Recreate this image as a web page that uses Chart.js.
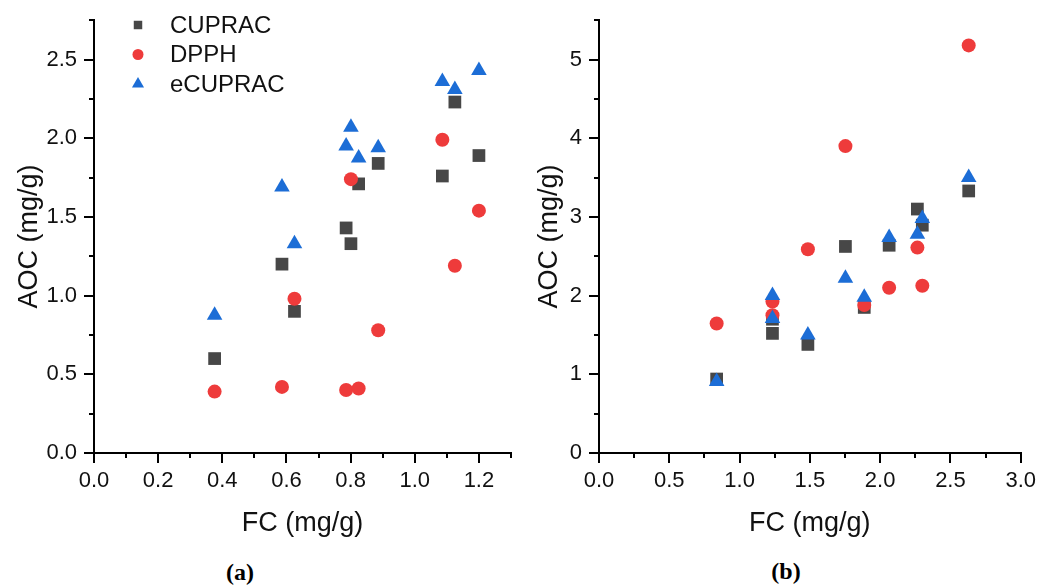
<!DOCTYPE html>
<html>
<head>
<meta charset="utf-8">
<script src="https://cdn.jsdelivr.net/npm/chart.js@4.4.1/dist/chart.umd.min.js"></script>
<style>
    body { margin: 0; background: #fff; width: 1041px; height: 587px; overflow: hidden; position: relative; }
    canvas { position: absolute; top: 0; }
    #chartA { left: 0; }
    #chartB { left: 520px; }
    .panel-label {
        position: absolute; width: 100px; text-align: center;
        font-family: 'Liberation Serif', 'DejaVu Serif', serif;
        font-weight: bold; font-size: 24px; line-height: 26px; color: #000;
    }
</style>
</head>
<body>
<canvas id="chartA" width="520" height="545"></canvas>
<canvas id="chartB" width="521" height="545"></canvas>
<div class="panel-label" style="left:190px; top:559px;">(a)</div>
<div class="panel-label" style="left:736px; top:558px;">(b)</div>

<script>
// Panel (a) data: FC vs AOC
const fcA = [0.376, 0.586, 0.625, 0.786, 0.801, 0.825, 0.886, 1.086, 1.125, 1.2];
const cupracA = [0.60, 1.20, 0.90, 1.43, 1.33, 1.71, 1.84, 1.76, 2.23, 1.89];
const dpphA = [0.39, 0.42, 0.98, 0.40, 1.74, 0.41, 0.78, 1.99, 1.19, 1.54];
const ecupracA = [0.875, 1.69, 1.33, 1.95, 2.07, 1.875, 1.94, 2.36, 2.31, 2.43];

// Panel (b) data
const fcB = [0.837, 1.234, 1.234, 1.486, 1.753, 1.887, 2.064, 2.265, 2.30, 2.63];
const cupracB = [0.94, 1.52, 1.70, 1.38, 2.625, 1.85, 2.64, 3.10, 2.895, 3.33];
const dpphB = [1.645, 1.925, 1.75, 2.59, 3.90, 1.88, 2.10, 2.61, 2.125, 5.18];
const ecupracB = [0.91, 2.0, 1.71, 1.50, 2.22, 1.98, 2.74, 2.78, 2.98, 3.50];

const seriesNames = ['CUPRAC', 'DPPH', 'eCUPRAC'];

Chart.defaults.font.family = "'Liberation Sans', Arial, sans-serif";
Chart.defaults.color = '#111';

function toPoints(xs, ys) {
    return xs.map((x, i) => ({ x: x, y: ys[i] }));
}

function makeDatasets(xs, c, d, e) {
    return [
        { label: seriesNames[0], data: toPoints(xs, c), pointStyle: 'rect', pointRadius: 9,
          backgroundColor: '#474747', borderWidth: 0, order: 3 },
        { label: seriesNames[1], data: toPoints(xs, d), pointStyle: 'circle', pointRadius: 7,
          backgroundColor: '#ee3b3b', borderWidth: 0, order: 2 },
        { label: seriesNames[2], data: toPoints(xs, e), pointStyle: 'triangle', pointRadius: 9,
          backgroundColor: '#1c6dd6', borderWidth: 0, order: 1 }
    ];
}

/**
 * Short minor ticks halfway between the labelled ones
 */
const minorTicks = {
    id: 'minorTicks',
    afterDraw(chart, args, opts) {
        const ctx = chart.ctx;
        const xs = chart.scales.x, ys = chart.scales.y;
        ctx.save();
        ctx.strokeStyle = '#000';
        ctx.lineWidth = 2;
        ctx.beginPath();
        for (let v = opts.xStep / 2; v <= xs.max + 1e-9; v += opts.xStep) {
            const px = Math.round(xs.getPixelForValue(v));
            ctx.moveTo(px, xs.top);
            ctx.lineTo(px, xs.top + 5);
        }
        for (let v = opts.yStep / 2; v <= ys.max + 1e-9; v += opts.yStep) {
            const py = Math.round(ys.getPixelForValue(v));
            ctx.moveTo(ys.right - 5, py);
            ctx.lineTo(ys.right, py);
        }
        ctx.stroke();
        ctx.restore();
    }
};

/**
 * Legend drawn inside the plot, top left
 */
const innerLegend = {
    id: 'innerLegend',
    afterDraw(chart, args, opts) {
        if (!opts.show) return;
        const ctx = chart.ctx;
        const sizes = { rect: 6, circle: 5.5, triangle: 7 };
        ctx.save();
        chart.data.datasets.forEach((ds, i) => {
            const y = opts.top + i * opts.rowGap;
            ctx.fillStyle = ds.backgroundColor;
            Chart.helpers.drawPoint(ctx, { pointStyle: ds.pointStyle, rotation: 0,
                radius: sizes[ds.pointStyle], borderWidth: 0 }, opts.markerX, y);
            ctx.fillStyle = '#111';
            ctx.font = "24px 'Liberation Sans', Arial, sans-serif";
            ctx.textBaseline = 'middle';
            ctx.textAlign = 'left';
            ctx.fillText(ds.label, opts.textX, y + 1);
        });
        ctx.restore();
    }
};

function buildChart(id, datasets, cfg) {
    return new Chart(document.getElementById(id), {
        type: 'scatter',
        data: { datasets: datasets },
        plugins: [minorTicks, innerLegend],
        options: {
            responsive: false,
            animation: false,
            clip: false,
            layout: { padding: { top: 13, right: cfg.padRight, left: 0, bottom: 0 } },
            plugins: {
                legend: { display: false },
                tooltip: { enabled: false },
                minorTicks: { xStep: cfg.xStep, yStep: cfg.yStep },
                innerLegend: { show: cfg.legend, markerX: 138, textX: 170, top: 25, rowGap: 29.5 }
            },
            scales: {
                x: {
                    min: 0,
                    max: cfg.xMax,
                    afterFit: function(scale) { scale.height = 92; },
                    border: { display: true, color: '#000', width: 2 },
                    grid: { drawOnChartArea: false, drawTicks: true, tickLength: 10, color: '#000', lineWidth: 2 },
                    ticks: {
                        stepSize: cfg.xStep,
                        includeBounds: false,
                        maxRotation: 0,
                        padding: 5,
                        font: { size: 22 },
                        callback: function(value) { return value.toFixed(1); }
                    },
                    title: { display: true, text: 'FC (mg/g)', font: { size: 27 }, padding: { bottom: 5, top: 0 } }
                },
                y: {
                    min: 0,
                    max: cfg.yMax,
                    afterFit: function(scale) { scale.width = cfg.yWidth; },
                    border: { display: true, color: '#000', width: 2 },
                    grid: { drawOnChartArea: false, drawTicks: true, tickLength: 10, color: '#000', lineWidth: 2 },
                    ticks: {
                        stepSize: cfg.yStep,
                        includeBounds: false,
                        padding: 7,
                        font: { size: 22 },
                        callback: function(value) { return value.toFixed(cfg.yDigits); }
                    },
                    title: { display: true, text: 'AOC (mg/g)', font: { size: 27 }, padding: { top: 13, bottom: 0 } }
                }
            }
        }
    });
}

buildChart('chartA', makeDatasets(fcA, cupracA, dpphA, ecupracA),
    { xMax: 1.3, xStep: 0.2, yMax: 2.75, yStep: 0.5, yDigits: 1, yWidth: 94, padRight: 7, legend: true });

buildChart('chartB', makeDatasets(fcB, cupracB, dpphB, ecupracB),
    { xMax: 3.0, xStep: 0.5, yMax: 5.5, yStep: 1, yDigits: 0, yWidth: 79, padRight: 17, legend: false });
</script>
</body>
</html>
